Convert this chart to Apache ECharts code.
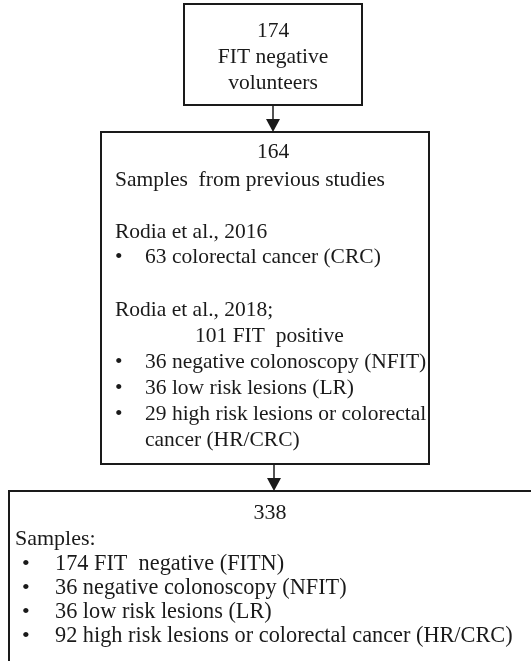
<!DOCTYPE html>
<html>
<head>
<meta charset="utf-8">
<script src="https://cdn.jsdelivr.net/npm/echarts@6/dist/echarts.min.js"></script>
<style>
html, body { margin: 0; padding: 0; background: #fff; }
#main { width: 531px; height: 661px; }
</style>
</head>
<body>
<div id="main"></div>
<script>
// texts of each box
var box1_lines = ['174', 'FIT negative', 'volunteers'];
var box2_title = '164';
var box2_intro = 'Samples  from previous studies';
var study1_name = 'Rodia et al., 2016';
var study1_items = ['63 colorectal cancer (CRC)'];
var study2_name = 'Rodia et al., 2018;';
var study2_sub = '101 FIT  positive';
var study2_items = ['36 negative colonoscopy (NFIT)', '36 low risk lesions (LR)', '29 high risk lesions or colorectal', 'cancer (HR/CRC)'];
var box3_title = '338';
var box3_intro = 'Samples:';
var box3_items = ['174 FIT  negative (FITN)', '36 negative colonoscopy (NFIT)', '36 low risk lesions (LR)', '92 high risk lesions or colorectal cancer (HR/CRC)'];

var INK = '#1a1a1a';

function font(size) {
    return size + 'px "Liberation Serif", "Times New Roman", serif';
}

function rect(x, y, w, h) {
    return {
        type: 'rect',
        shape: { x: x, y: y, width: w, height: h },
        style: { fill: '#fff', stroke: INK, lineWidth: 2 }
    };
}

function txt(s, x, y, align, size) {
    return {
        type: 'text',
        x: x, y: y,
        style: { text: s, font: font(size || 21.5), fill: INK, textAlign: align || 'left', textVerticalAlign: 'middle' }
    };
}

function arrow(x, y1, y2) {
    return [
        { type: 'line', shape: { x1: x, y1: y1, x2: x, y2: y2 - 10 }, style: { stroke: INK, lineWidth: 1.5 } },
        { type: 'polygon', shape: { points: [[x - 7, y2 - 13], [x + 7, y2 - 13], [x, y2]] }, style: { fill: INK } }
    ];
}

var elements = [];

// box 1
elements.push(rect(184, 4, 178, 101));
box1_lines.forEach(function (s, i) {
    elements.push(txt(s, 273, 31 + i * 26, 'center'));
});

// box 2
elements.push(rect(101, 132, 328, 332));
elements.push(txt(box2_title, 273, 152, 'center'));
elements.push(txt(box2_intro, 115, 180));
elements.push(txt(study1_name, 115, 232));
study1_items.forEach(function (s, i) {
    elements.push(txt('•', 115, 257 + i * 26));
    elements.push(txt(s, 145, 257 + i * 26));
});
elements.push(txt(study2_name, 115, 310));
elements.push(txt(study2_sub, 195, 336));
study2_items.forEach(function (s, i) {
    // the last line continues the previous bullet
    if (i < 3) elements.push(txt('•', 115, 362 + i * 26));
    elements.push(txt(s, 145, 362 + i * 26));
});

// box 3
elements.push(rect(9, 491, 540, 190));
elements.push(txt(box3_title, 270, 513, 'center', 22));
elements.push(txt(box3_intro, 15, 539, 'left', 22));
box3_items.forEach(function (s, i) {
    elements.push(txt('•', 22, 564 + i * 24, 'left', 22));
    elements.push(txt(s, 55, 564 + i * 24, 'left', 22.3));
});

// arrows
elements = elements.concat(arrow(273, 105, 132));
elements = elements.concat(arrow(274, 464, 491));

var myChart = echarts.init(document.getElementById('main'));
var option = {
    backgroundColor: '#fff',
    graphic: { elements: elements }
};
myChart.setOption(option);
</script>
</body>
</html>
